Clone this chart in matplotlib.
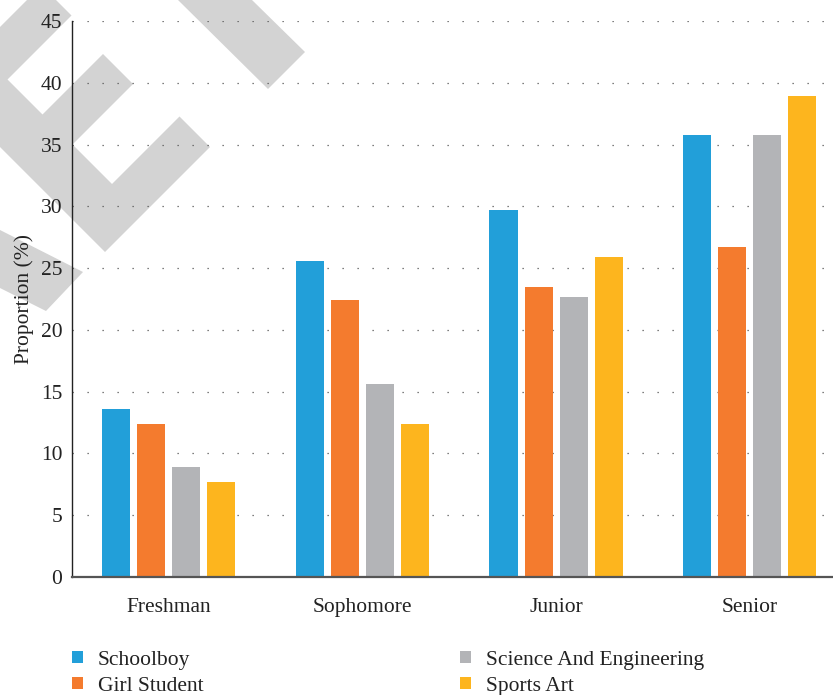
import matplotlib
matplotlib.use("Agg")
import matplotlib.pyplot as plt
import numpy as np
from matplotlib.patches import Polygon

plt.rcParams["font.family"] = ["Liberation Serif", "DejaVu Serif"]

grades = ["Freshman", "Sophomore", "Junior", "Senior"]
series = ["Schoolboy", "Girl Student", "Science And Engineering", "Sports Art"]
schoolboy = [13.6, 25.6, 29.7, 35.8]
girl_student = [12.4, 22.4, 23.5, 26.7]
science_eng = [8.9, 15.6, 22.7, 35.8]
sports_art = [7.7, 12.4, 25.9, 38.9]
colors = ["#229fd9", "#f47b2e", "#b3b4b7", "#fdb51e"]
yticks = [0, 5, 10, 15, 20, 25, 30, 35, 40, 45]

W, H = 833, 695
fig = plt.figure(figsize=(W / 100, H / 100), dpi=100)
fig.patch.set_facecolor("white")

# light grey logo shapes behind the plot (pixel coords, y down)
def px(pts):
    return [(x / W, 1 - y / H) for x, y in pts]

logo = [
    [(105, 252), (210, 147), (179.5, 116.5), (112, 184), (72.5, 144.5),
     (133, 84), (103, 54), (42.5, 114.5), (7.5, 79.5), (71.5, 15.5),
     (41.5, -14.5), (-60, 87)],
    [(178, 0), (252, 0), (305, 52), (268, 89), (178, 0)],
    [(0, 230), (83, 272), (46, 311), (0, 288)],
]
for pts in logo:
    fig.patches.append(Polygon(px(pts), closed=True, transform=fig.transFigure,
                               facecolor="#d3d3d3", edgecolor="none", zorder=-1))

ax = fig.add_axes([72 / W, 1 - 577 / H, 1 - 72 / W, (577 - 21) / H])
ax.set_facecolor("none")

x = np.arange(len(grades))
width = 0.145
step = 0.181
values = [schoolboy, girl_student, science_eng, sports_art]
bars = []
for i, (name, vals) in enumerate(zip(series, values)):
    b = ax.bar(x + (i - 1.5) * step, vals, width, color=colors[i], label=name, zorder=2)
    bars.append(b)

ax.set_xlim(-0.5, 3.43)
ax.set_ylim(0, 45)
ax.set_yticks(yticks)
ax.set_xticks(x)
ax.set_xticklabels(grades)
ax.tick_params(axis="both", length=0, labelsize=15.5, colors="#222222")
ax.tick_params(axis="y", pad=7)
ax.tick_params(axis="x", pad=15)
ax.set_ylabel("Proportion (%)", fontsize=15.5, color="#222222", labelpad=5)

ax.grid(axis="y", linestyle=(0, (1, 11)), linewidth=0.9, color="#555555", zorder=1)
ax.set_axisbelow(True)
for s in ["top", "right"]:
    ax.spines[s].set_visible(False)
ax.spines["left"].set_color("#222222")
ax.spines["left"].set_linewidth(1.0)
ax.spines["bottom"].set_color("#555555")
ax.spines["bottom"].set_linewidth(1.6)

leg_kw = dict(frameon=False, fontsize=15.5, handlelength=0.5, handleheight=0.5,
              handletextpad=0.7, labelspacing=0.32, borderpad=0, borderaxespad=0,
              loc="upper left", labelcolor="#222222")
fig.legend(bars[:2], series[:2], bbox_to_anchor=(72 / W, 1 - 651 / H), **leg_kw)
fig.legend(bars[2:], series[2:], bbox_to_anchor=(460 / W, 1 - 651 / H), **leg_kw)

fig.savefig("out.png", dpi=100)
